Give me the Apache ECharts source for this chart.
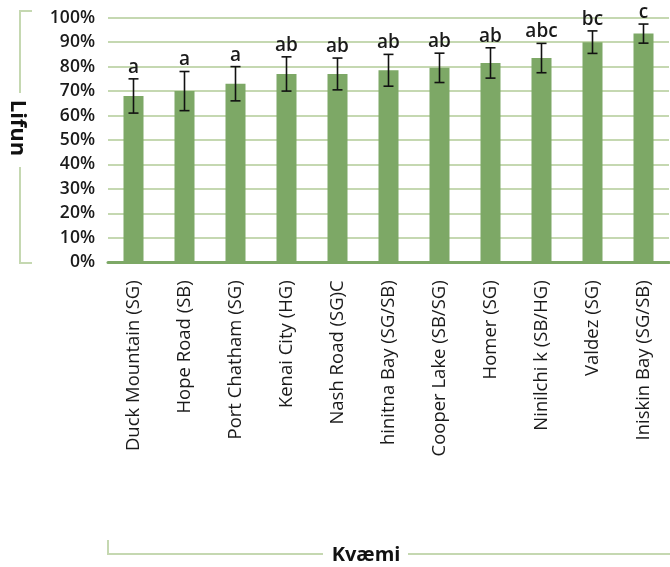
<!DOCTYPE html>
<html>
<head>
<meta charset="utf-8">
<script src="https://cdn.jsdelivr.net/npm/echarts@6/dist/echarts.min.js"></script>
<style>
  html, body { margin: 0; padding: 0; background: #ffffff; }
  #chart { width: 670px; height: 567px; }
</style>
</head>
<body>
<div id="chart"></div>
<script>
// Survival per provenance (percent), with standard error and significance letters
const categories = [
  'Duck Mountain (SG)', 'Hope Road (SB)', 'Port Chatham (SG)', 'Kenai City (HG)',
  'Nash Road (SG)C', 'hinitna Bay (SG/SB)', 'Cooper Lake (SB/SG)', 'Homer (SG)',
  'Ninilchi k (SB/HG)', 'Valdez (SG)', 'Iniskin Bay (SG/SB)'
];
const means = [68, 70, 73, 77, 77, 78.5, 79.5, 81.5, 83.5, 90, 93.5];
const errors = [7, 8, 7, 7, 6.5, 6.5, 6, 6.2, 6, 4.6, 3.9];
const letters = ['a', 'a', 'a', 'ab', 'ab', 'ab', 'ab', 'ab', 'abc', 'bc', 'c'];
const yTicks = [0, 10, 20, 30, 40, 50, 60, 70, 80, 90, 100];

const FONT = '"Open Sans", "Noto Sans", sans-serif';
const BAR = '#7da866';
const GRID = '#c5d8b1';

const chart = echarts.init(document.getElementById('chart'), null, { renderer: 'canvas' });

const errData = categories.map((c, i) => [i, means[i], errors[i], letters[i]]);

chart.setOption({
  animation: false,
  grid: { left: 108, right: 1, top: 17.7, bottom: 304.7, containLabel: false },
  xAxis: {
    type: 'category',
    data: categories,
    axisLine: { show: true, lineStyle: { color: BAR, width: 3 } },
    axisTick: { show: false },
    axisLabel: {
      rotate: 90, margin: 18, interval: 0,
      fontFamily: FONT, fontSize: 18.5, fontWeight: 500, color: '#1a1a1a'
    }
  },
  yAxis: {
    type: 'value',
    min: yTicks[0], max: yTicks[yTicks.length - 1], interval: 10,
    axisLine: { show: false },
    axisTick: { show: false },
    splitLine: { lineStyle: { color: GRID, width: 2 } },
    axisLabel: {
      margin: 13, formatter: v => v + '%',
      fontFamily: FONT, fontSize: 17.5, fontWeight: 600, color: '#1a1a1a'
    }
  },
  series: [
    {
      type: 'bar',
      data: means,
      barWidth: 20,
      itemStyle: { color: BAR },
      z: 2
    },
    {
      type: 'custom',
      data: errData,
      z: 5,
      renderItem: function (params, api) {
        const i = api.value(0);
        const m = api.value(1);
        const e = api.value(2);
        const hi = api.coord([i, m + e]);
        const lo = api.coord([i, m - e]);
        const cap = 5;
        const style = { stroke: '#111111', lineWidth: 1.6 };
        return {
          type: 'group',
          children: [
            { type: 'line', shape: { x1: hi[0], y1: hi[1], x2: lo[0], y2: lo[1] }, style: style },
            { type: 'line', shape: { x1: hi[0] - cap, y1: hi[1], x2: hi[0] + cap, y2: hi[1] }, style: style },
            { type: 'line', shape: { x1: lo[0] - cap, y1: lo[1], x2: lo[0] + cap, y2: lo[1] }, style: style },
            {
              type: 'text',
              x: hi[0], y: hi[1] - 2,
              style: {
                text: letters[params.dataIndex],
                align: 'center', verticalAlign: 'bottom',
                fontFamily: FONT, fontSize: 19, fontWeight: 600, fill: '#1a1a1a'
              }
            }
          ]
        };
      }
    }
  ],
  graphic: [
    // y-axis title with bracket
    { type: 'polyline', shape: { points: [[32, 11], [20, 11], [20, 93]] }, style: { stroke: GRID, lineWidth: 2, fill: null } },
    { type: 'polyline', shape: { points: [[20, 167], [20, 263], [32, 263]] }, style: { stroke: GRID, lineWidth: 2, fill: null } },
    {
      type: 'text', x: 17, y: 128, rotation: -Math.PI / 2,
      style: { text: 'Lifun', align: 'center', verticalAlign: 'middle', fontFamily: FONT, fontSize: 22, fontWeight: 700, fill: '#111111' }
    },
    // x-axis title with bracket
    { type: 'polyline', shape: { points: [[108, 540], [108, 554], [323, 554]] }, style: { stroke: GRID, lineWidth: 2, fill: null } },
    { type: 'line', shape: { x1: 408, y1: 554, x2: 670, y2: 554 }, style: { stroke: GRID, lineWidth: 2 } },
    {
      type: 'text', x: 366, y: 555,
      style: { text: 'Kvæmi', align: 'center', verticalAlign: 'middle', fontFamily: FONT, fontSize: 20, fontWeight: 700, fill: '#111111' }
    }
  ]
});
</script>
</body>
</html>
